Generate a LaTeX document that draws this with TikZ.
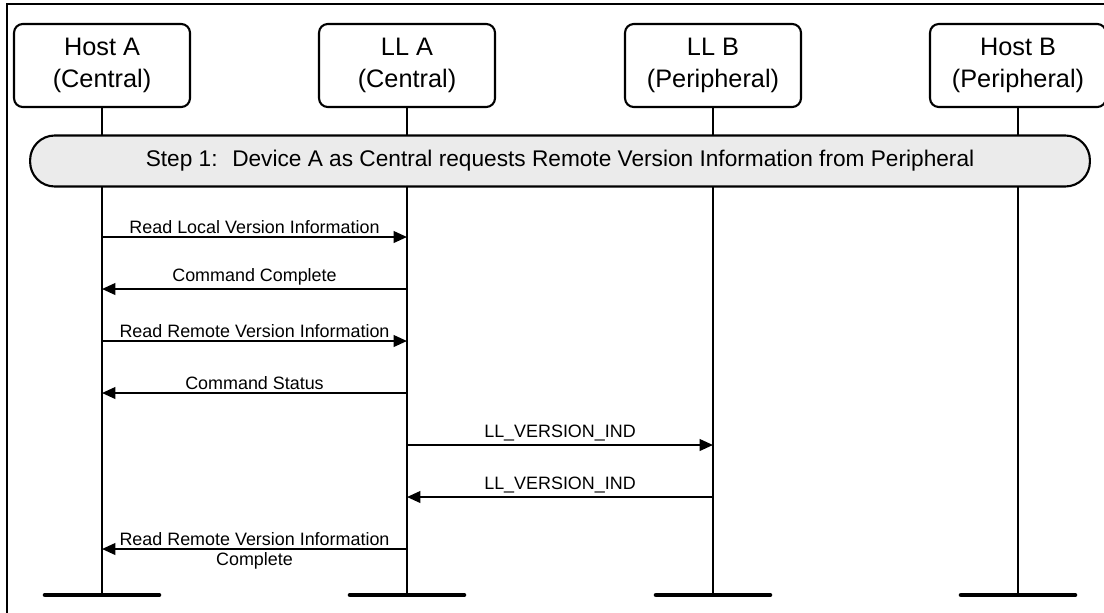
\documentclass[tikz,border=0pt]{standalone}
\usepackage{fontspec}
\setmainfont{Liberation Sans}
\usepackage{tikz}
\usetikzlibrary{positioning,arrows.meta,calc}
\definecolor{stepgrey}{HTML}{EBEBEB}

\begin{document}
\begin{tikzpicture}[
  x=0.02cm,y=-0.02cm,
  actor/.style={rectangle,rounded corners=5pt,draw,line width=1.2pt,minimum width=3.52cm,minimum height=1.66cm,align=center,inner sep=1pt,font=\fontsize{14.4}{18}\selectfont},
  stepbar/.style={rectangle,rounded corners=14pt,draw,line width=1.2pt,fill=stepgrey,minimum width=21.2cm,minimum height=1.02cm,font=\fontsize{12.9}{15}\selectfont},
  life/.style={line width=1.2pt},
  endbar/.style={line width=2.6pt,line cap=round},
  msg/.style={-{Triangle[length=7.6pt,width=6.6pt]},line width=1.2pt},
  msglabel/.style={font=\fontsize{10.2}{12}\selectfont,inner sep=1.5pt},
]
\useasboundingbox (0,0) rectangle (1104,612);
% outer frame
\draw[line width=1.2pt] (7,640) -- (7,4) -- (1130,4);

% actors
\node[actor] (hostA) at (102,65.5)  {Host A\\(Central)};
\node[actor] (llA)   at (407,65.5)  {LL A\\(Central)};
\node[actor] (llB)   at (713,65.5)  {LL B\\(Peripheral)};
\node[actor] (hostB) at (1018,65.5) {Host B\\(Peripheral)};

% lifelines
\foreach \n in {hostA,llA,llB,hostB}{
  \coordinate (end\n) at (\n.south |- 0,595);
  \draw[life] (\n.south) -- (end\n);
  \draw[endbar] ($(end\n)+(-57,0)$) -- ($(end\n)+(57,0)$);
}

% step bar
\node[stepbar] (step1) at (560,161) {Step 1:~ Device A as Central requests Remote Version Information from Peripheral};

% messages
\draw[msg] (hostA |- 0,237) -- node[msglabel,above]{Read Local Version Information} (llA |- 0,237);
\draw[msg] (llA |- 0,289) -- node[msglabel,above]{Command Complete} (hostA |- 0,289);
\draw[msg] (hostA |- 0,341) -- node[msglabel,above]{Read Remote Version Information} (llA |- 0,341);
\draw[msg] (llA |- 0,393) -- node[msglabel,above]{Command Status} (hostA |- 0,393);
\draw[msg] (llA |- 0,445) -- node[msglabel,above]{LL\_VERSION\_IND} (llB |- 0,445);
\draw[msg] (llB |- 0,497) -- node[msglabel,above]{LL\_VERSION\_IND} (llA |- 0,497);
\draw[msg] (llA |- 0,549) -- node[msglabel,above]{Read Remote Version Information}
  node[msglabel,below]{Complete} (hostA |- 0,549);
\end{tikzpicture}
\end{document}
